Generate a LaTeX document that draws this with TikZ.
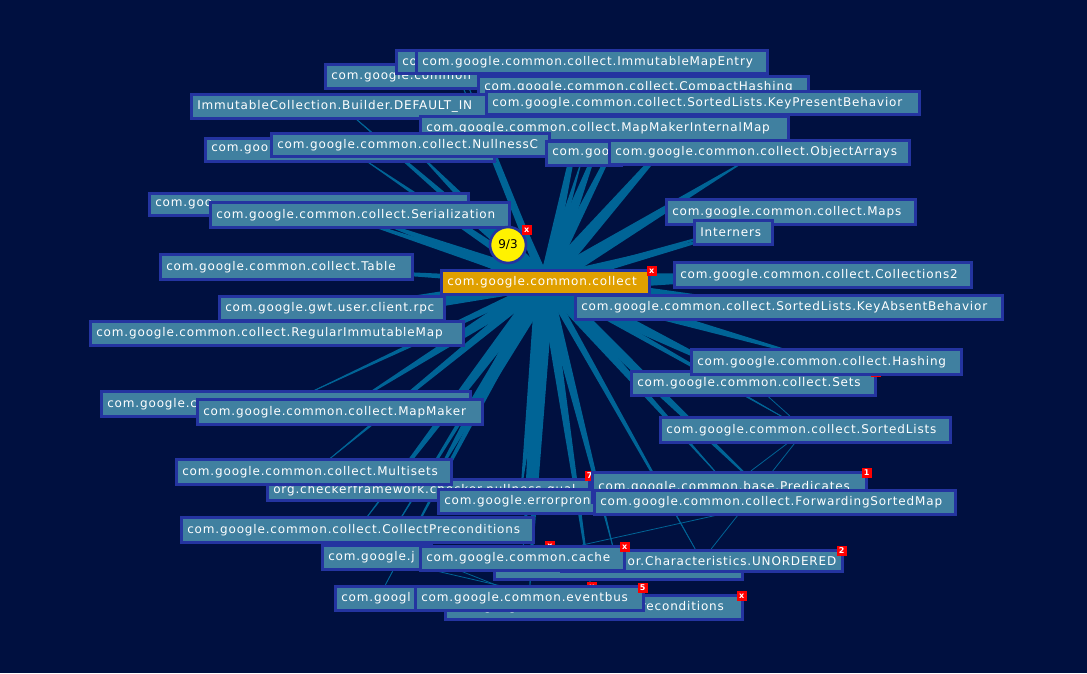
\documentclass[tikz,border=0pt]{standalone}
\usepackage{fontspec}
\newfontfamily\pkgfont[LetterSpace=7]{DejaVu Sans}
\newfontfamily\flagfont{DejaVu Sans}
\usetikzlibrary{calc,positioning}
\definecolor{bgblue}{RGB}{0,16,64}
\definecolor{pkgfill}{RGB}{64,128,160}
\definecolor{pkgline}{RGB}{36,52,160}
\definecolor{hubfill}{RGB}{224,160,0}
\definecolor{edgeblue}{RGB}{0,100,150}
\pgfdeclarelayer{background}
\pgfsetlayers{background,main}
\hyphenpenalty=10000
% tapered spoke from the hub to a package
\newcommand\spoke[2]{%
  \fill[edgeblue] ($(ctr)!#2!90:(#1)$) -- (#1.center) -- ($(ctr)!#2!-90:(#1)$) -- cycle;
  \draw[link] (ctr.center) -- (#1.center);}

\begin{document}
\begin{tikzpicture}[
  x=1pt, y=-1pt,
  pkg/.style={draw=pkgline, fill=pkgfill, line width=2.6pt, anchor=north west, text=white,
    font=\pkgfont\fontsize{12}{14}\selectfont, align=left,
    inner xsep=6pt, inner ysep=0pt},
  flag/.style={fill=red, inner sep=0pt, minimum size=10pt, text=white,
    font=\flagfont\bfseries\fontsize{8}{8}\selectfont},
  link/.style={edgeblue, line width=0.8pt}
]
\useasboundingbox (0,0) rectangle (1087,673);

% top cluster
\node[pkg, text width=254pt, minimum height=24pt] (cmnA) at (324,63) {com.google.common};
\node[pkg, text width=113pt, minimum height=23pt] (coA) at (395,49) {co};
\node[pkg, text width=339pt, minimum height=23pt] (entry) at (415,49) {com.google.common.collect.ImmutableMapEntry};
\node[pkg, text width=318pt, minimum height=22pt] (compact) at (477,75) {com.google.common.collect.CompactHashing};
\node[pkg, text width=288pt, minimum height=24pt] (builder) at (190,93) {ImmutableCollection.Builder.DEFAULT\_IN};
\node[pkg, text width=421pt, minimum height=23pt] (present) at (485,90) {com.google.common.collect.SortedLists.KeyPresentBehavior};
\node[pkg, text width=356pt, minimum height=24pt] (internal) at (419,115) {com.google.common.collect.MapMakerInternalMap};
\node[pkg, text width=277pt, minimum height=23pt] (gooA) at (204,137) {com.goo};
\node[pkg, text width=266pt, minimum height=23pt] (nullness) at (270,132) {com.google.common.collect.NullnessC};
\node[pkg, text width=63pt, minimum height=24pt] (gooB) at (545,140) {com.goo};
\node[pkg, text width=288pt, minimum height=24pt] (objarr) at (608,139) {com.google.common.collect.ObjectArrays};

% left and right of the hub
\node[pkg, text width=307pt, minimum height=22pt] (gooC) at (148,192) {com.goo};
\node[pkg, text width=287pt, minimum height=25pt] (serial) at (209,201) {com.google.common.collect.Serialization};
\node[pkg, text width=240pt, minimum height=25pt] (table) at (159,253) {com.google.common.collect.Table};
\node[pkg, text width=213pt, minimum height=24pt] (rpc) at (218,295) {com.google.gwt.user.client.rpc};
\node[pkg, text width=361pt, minimum height=24pt] (regular) at (89,320) {com.google.common.collect.RegularImmutableMap};
\node[pkg, text width=237pt, minimum height=25pt] (maps) at (665,198) {com.google.common.collect.Maps};
\node[pkg, text width=66pt, minimum height=24pt] (interners) at (693,219) {Interners};
\node[pkg, text width=285pt, minimum height=25pt] (coll2) at (673,261) {com.google.common.collect.Collections2};
\node[pkg, text width=415pt, minimum height=24pt] (absent) at (574,294) {com.google.common.collect.SortedLists.KeyAbsentBehavior};
\node[pkg, text width=196pt, minimum height=24pt, fill=hubfill] (ctr) at (440,269) {com.google.common.collect};
\node[flag] at ([xshift=1pt,yshift=-2pt]ctr.north east) {x};
\node[circle, draw=pkgline, line width=2.6pt, fill=yellow, minimum size=36pt, inner sep=0pt,
  font=\flagfont\fontsize{12}{13}\selectfont] (ratio) at (508,245) {9/3};
\node[flag] at ([xshift=5pt,yshift=1pt]ratio.north east) {x};

% lower right
\node[pkg, text width=232pt, minimum height=24pt] (sets) at (630,370) {com.google.common.collect.Sets};
\node[flag] at ([xshift=-1pt,yshift=-2pt]sets.north east) {1};
\node[pkg, text width=258pt, minimum height=25pt] (hashing) at (690,348) {com.google.common.collect.Hashing};
\node[pkg, text width=278pt, minimum height=25pt] (sorted) at (659,416) {com.google.common.collect.SortedLists};

% lower left
\node[pkg, text width=357pt, minimum height=25pt] (gooD) at (100,390) {com.google.c};
\node[pkg, text width=273pt, minimum height=25pt] (mapmaker) at (196,398) {com.google.common.collect.MapMaker};
\node[pkg, text width=310pt, minimum height=21pt] (checker) at (266,478) {org.checkerframework.checker.nullness.qual};
\node[flag] at ([xshift=-1pt,yshift=2pt]checker.north east) {7};
\node[pkg, text width=263pt, minimum height=25pt] (multisets) at (175,458) {com.google.common.collect.Multisets};
\node[pkg, text width=151pt, minimum height=24pt] (errorprone) at (437,488) {com.google.errorprone};
\node[pkg, text width=262pt, minimum height=30pt] (predicates) at (591,471) {com.google.common.base.Predicates};
\node[flag] at ([xshift=-1pt,yshift=-2pt]predicates.north east) {1};
\node[pkg, text width=349pt, minimum height=24pt] (fwdsorted) at (593,489) {com.google.common.collect.ForwardingSortedMap};
\node[pkg, text width=340pt, minimum height=25pt] (collprec) at (180,516) {com.google.common.collect.CollectPreconditions};

% bottom pile
\node[pkg, text width=236pt, minimum height=23pt] (gooE) at (493,555) {\raisebox{-4pt}{com.goog}};
\node[pkg, text width=269pt, minimum height=21pt, align=right] (unordered) at (560,549) {or.Characteristics.UNORDERED};
\node[flag] at ([xshift=-2pt,yshift=-2pt]unordered.north east) {2};
\node[pkg, text width=97pt, minimum height=24pt] (gooJ) at (321,544) {com.google.j};
\node[flag] at (550,546) {x};
\node[pkg, text width=192pt, minimum height=24pt] (cache) at (419,545) {com.google.common.cache};
\node[flag] at ([xshift=-1pt,yshift=-2pt]cache.north east) {x};
\node[pkg, text width=74pt, minimum height=24pt] (gooF) at (334,585) {com.googl};
\node[pkg, text width=285pt, minimum height=24pt] (preconds) at (444,594) {\raisebox{-3pt}{com.google.common.base.Preconditions}};
\node[flag] at ([xshift=-2pt,yshift=-2pt]preconds.north east) {x};
\node[flag] at (592,587) {x};
\node[pkg, text width=216pt, minimum height=24pt] (eventbus) at (414,585) {com.google.common.eventbus};
\node[flag] at ([xshift=-2pt,yshift=-3pt]eventbus.north east) {5};

\begin{pgfonlayer}{background}
\fill[bgblue] (0,0) rectangle (1087,673);
\spoke{entry}{6pt}
\spoke{cmnA}{5pt}
\spoke{coA}{3pt}
\spoke{compact}{6pt}
\spoke{present}{8pt}
\spoke{builder}{5pt}
\spoke{internal}{9pt}
\spoke{gooA}{5pt}
\spoke{nullness}{8pt}
\spoke{gooB}{6pt}
\spoke{objarr}{8pt}
\spoke{gooC}{5pt}
\spoke{serial}{8pt}
\spoke{table}{4pt}
\spoke{rpc}{7pt}
\spoke{regular}{7pt}
\spoke{maps}{3pt}
\spoke{interners}{7pt}
\spoke{coll2}{10pt}
\spoke{absent}{9pt}
\spoke{sets}{9pt}
\spoke{hashing}{8pt}
\spoke{sorted}{4pt}
\spoke{gooD}{4pt}
\spoke{mapmaker}{7pt}
\spoke{multisets}{5pt}
\spoke{checker}{10pt}
\spoke{errorprone}{10pt}
\spoke{predicates}{6pt}
\spoke{fwdsorted}{7pt}
\spoke{collprec}{7pt}
\spoke{gooE}{6pt}
\spoke{unordered}{4pt}
\spoke{gooJ}{4pt}
\spoke{cache}{10pt}
\spoke{gooF}{4pt}
\spoke{preconds}{6pt}
\spoke{eventbus}{9pt}
\draw[link] (sets) -- (sorted);
\draw[link] (sorted) -- (predicates);
\draw[link] (sorted) -- (unordered);
\draw[link] (fwdsorted) -- (cache);
\draw[link] (collprec) -- (eventbus);
\draw[link] (gooJ) -- (preconds);
\end{pgfonlayer}
\end{tikzpicture}
\end{document}
